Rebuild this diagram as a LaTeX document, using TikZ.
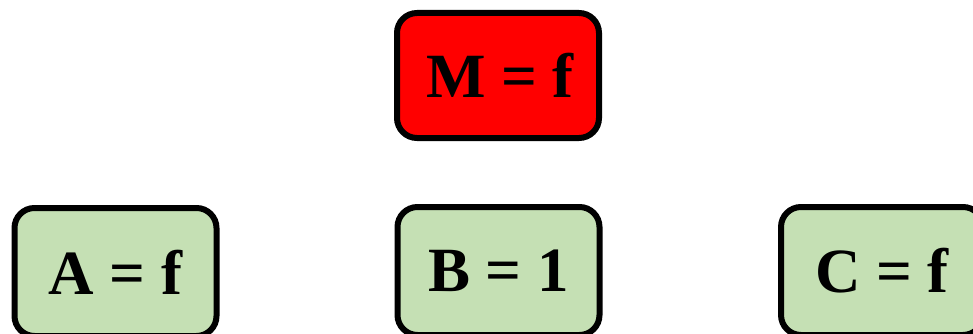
\documentclass[tikz,border=0pt]{standalone}
\usepackage{fontspec}
\setmainfont{Liberation Serif}
\definecolor{boxred}{HTML}{FF0000}
\definecolor{boxgreen}{HTML}{C5E0B4}
\tikzset{
  valbox/.style={draw=black, line width=6pt, rounded corners=20pt, minimum width=202pt, inner sep=0pt, font=\fontsize{63}{76}\selectfont\bfseries},
  topbox/.style={valbox, fill=boxred, minimum height=125pt},
  leafbox/.style={valbox, fill=boxgreen, minimum height=128pt}
}
\begin{document}
\begin{tikzpicture}[x=1pt,y=-1pt]
\useasboundingbox (0,0) rectangle (973,334);
\node[topbox] (M) at (498,75.5) {\hspace{4pt}M = f};
\node[leafbox] (A) at (115.5,272) {A = f};
\node[leafbox] (B) at (498.5,271) {B = 1};
\node[leafbox] (C) at (882,271) {C = f};
\end{tikzpicture}
\end{document}
